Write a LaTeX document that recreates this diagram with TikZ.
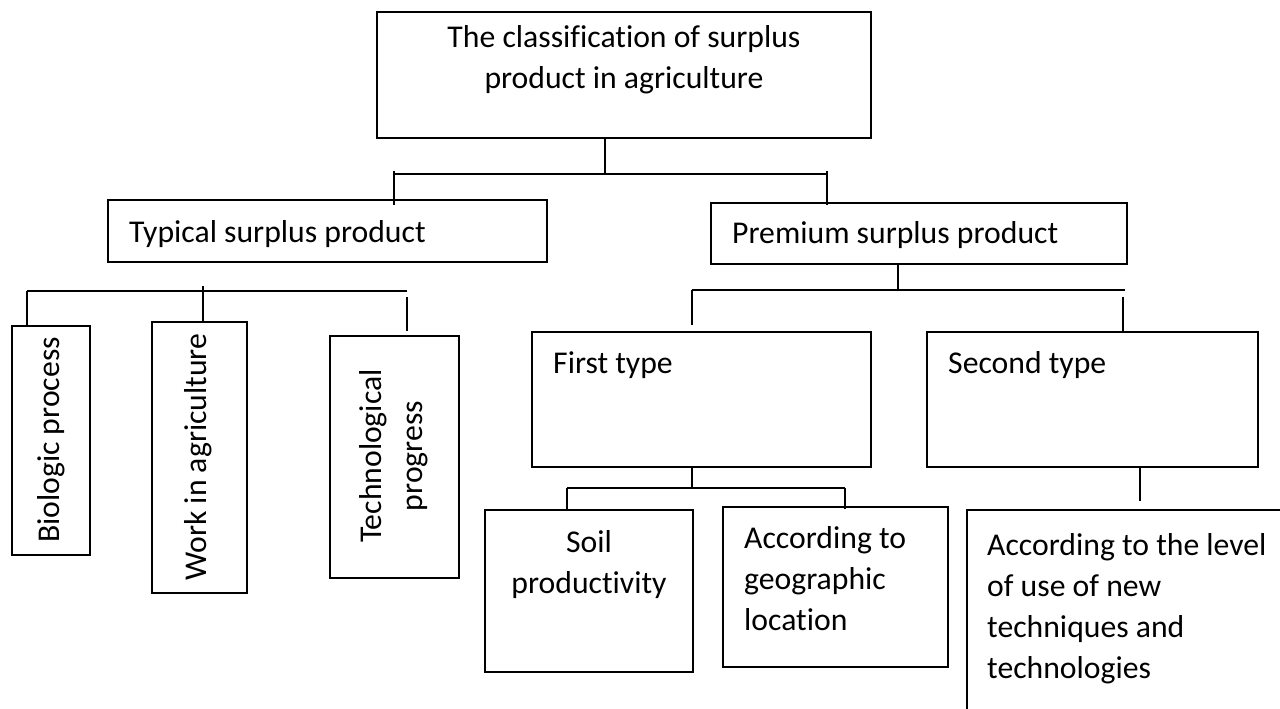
\documentclass[tikz,border=0pt]{standalone}
\usepackage{fontspec}
\setmainfont{Carlito}[Ligatures=CommonOff]
\usetikzlibrary{fit,calc}
\tikzset{
  box/.style={draw=black, line width=1.2pt, inner sep=0pt, rectangle},
  lbl/.style={inner sep=0pt, text=black, font=\fontsize{31.7}{41}\selectfont},
  conn/.style={line width=1.3pt, black},
}
\begin{document}
\begin{tikzpicture}[x=1pt,y=-1pt]
\useasboundingbox (0,0) rectangle (1280,709);
\fill[white] (0,0) rectangle (1280,709);
\clip (0,0) rectangle (1280,709);

% boxes
\node[box, fit={(377,12) (871,138)}] (top) {};
\node[box, fit={(108,200) (547,262)}] (typ) {};
\node[box, fit={(711,203) (1127,264)}] (prem) {};
\node[box, fit={(12,326) (90,555)}] (bio) {};
\node[box, fit={(152,322) (247,593)}] (work) {};
\node[box, fit={(330,336) (459,578)}] (tech) {};
\node[box, fit={(532,332) (871,467)}] (first) {};
\node[box, fit={(927,332) (1258,467)}] (second) {};
\node[box, fit={(485,510) (693,672)}] (soil) {};
\node[box, fit={(723,507) (948,667)}] (geo) {};
\node[box, fit={(967,510) (1295,730)}] (level) {};

% texts
\node[lbl, anchor=base] (topT) at (624,48) {\parbox[t]{470pt}{\centering The classification of surplus\\product in agriculture}};
\node[lbl, anchor=base west] (typT) at (129,242) {Typical surplus product};
\node[lbl, anchor=base west] (premT) at (732,243) {Premium surplus product};
\node[lbl, anchor=base west] (firstT) at (553,373) {First type};
\node[lbl, anchor=base west] (secondT) at (948,373) {Second type};
\node[lbl, anchor=base] (soilT) at (589,552) {\parbox[t]{200pt}{\centering Soil\\productivity}};
\node[lbl, anchor=base west] (geoT) at (744,548) {\parbox[t]{200pt}{According to\\geographic\\location}};
\node[lbl, anchor=base west] (levelT) at (987,555) {\parbox[t]{400pt}{According to the level\\of use of new\\techniques and\\technologies}};
\node[lbl, rotate=90] (bioT) at (51,440) {Biologic process};
\node[lbl, rotate=90] (workT) at (198,457) {Work in agriculture};
\node[lbl, rotate=90, align=center] (techT) at (394,456) {Technological\\progress};

% connectors: top level
\coordinate (j1) at (605,174);
\coordinate (j1l) at (394,174);
\coordinate (j1r) at (827,174);
\draw[conn] (top.south -| j1) -- (j1);
\draw[conn] (j1l) -- (j1r);
\draw[conn] ($(j1l)+(0,-3)$) -- ($(typ.north -| j1l)+(0,6)$);
\draw[conn] ($(j1r)+(0,-3)$) -- ($(prem.north -| j1r)+(0,3)$);

% connectors: typical
\coordinate (j2l) at (27,291);
\coordinate (j2r) at (407,291);
\draw[conn] (j2l) -- (j2r);
\draw[conn] (j2l) -- (bio.north -| j2l);
\draw[conn] (203,286) -- (work.north -| 203,0);
\draw[conn] ($(j2r)+(0,6)$) -- ($(tech.north -| j2r)+(0,-4)$);

% connectors: premium
\coordinate (j3) at (898,290);
\coordinate (j3l) at (692,290);
\coordinate (j3r) at (1125,290);
\draw[conn] (prem.south -| j3) -- (j3);
\draw[conn] (j3l) -- (j3r);
\draw[conn] (j3l) -- ($(first.north -| j3l)+(0,-6)$);
\draw[conn] (1123,297) -- (second.north -| 1123,0);

% connectors: first type
\coordinate (j4) at (692,488);
\coordinate (j4l) at (567,488);
\coordinate (j4r) at (845,488);
\draw[conn] (first.south -| j4) -- (j4);
\draw[conn] (j4l) -- (j4r);
\draw[conn] (j4l) -- (soil.north -| j4l);
\draw[conn] (j4r) -- ($(geo.north -| j4r)+(0,3)$);

% connector: second type
\draw[conn] (second.south -| 1140,0) -- ($(level.north -| 1140,0)+(0,-8)$);
\end{tikzpicture}
\end{document}
